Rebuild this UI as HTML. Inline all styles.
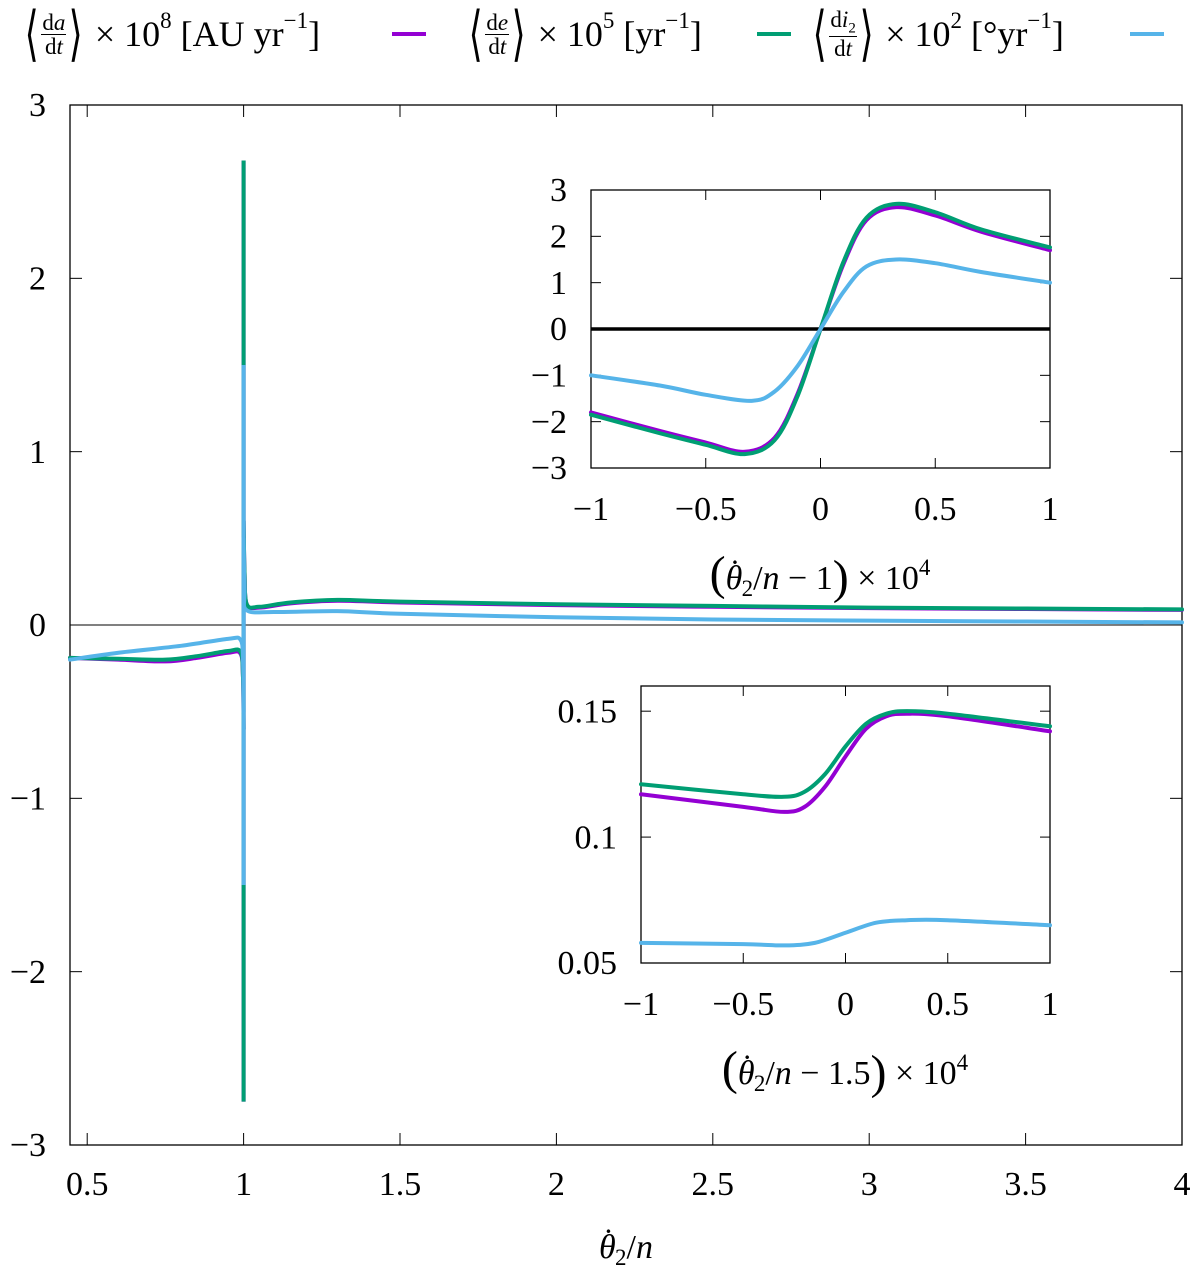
<!DOCTYPE html>
<html><head><meta charset="utf-8"><style>
body{margin:0;background:#fff;width:1200px;height:1273px;overflow:hidden;font-family:"Liberation Serif",serif}
.leg{position:absolute;top:8px;font-size:36px;white-space:nowrap;display:flex;align-items:center;height:52px}
.leg sup{font-size:23px;position:relative;top:-13px;vertical-align:baseline}
.br{font-size:60px;font-weight:100;transform:scaleX(0.6);display:inline-block;line-height:1;margin:0 -2px}
.fr{display:inline-flex;flex-direction:column;align-items:center;font-size:23px;line-height:1;margin:0 0px}
.fr span:first-child{border-bottom:1px solid #000;padding:0 1px}
i{font-style:italic}
</style></head><body>
<div class="leg" style="left:22px"><span class="br">⟨</span><span class="fr"><span>d<i>a</i></span><span>d<i>t</i></span></span><span class="br">⟩</span>&nbsp;× 10<sup>8</sup>&nbsp;[AU yr<sup>−1</sup>]</div>
<div class="leg" style="left:466px"><span class="br">⟨</span><span class="fr"><span>d<i>e</i></span><span>d<i>t</i></span></span><span class="br">⟩</span>&nbsp;× 10<sup>5</sup>&nbsp;[yr<sup>−1</sup>]</div>
<div class="leg" style="left:810px"><span class="br">⟨</span><span class="fr"><span>d<i>i</i><sub style="font-size:15px">2</sub></span><span>d<i>t</i></span></span><span class="br">⟩</span>&nbsp;× 10<sup>2</sup>&nbsp;[°yr<sup>−1</sup>]</div>
<svg id="s" width="1200" height="1273" style="position:absolute;left:0;top:0" font-family="Liberation Serif, serif"></svg>
<script>
const C=['#9400d3','#009e73','#56b4e9'];
const legX=[392,757,1130];
const mainDA=[[0.445,-0.19],[0.6,-0.2],[0.75,-0.21],[0.85,-0.19],[0.95,-0.16],[0.99,-0.165],[0.998,-0.3],[1.0,-0.6]];
const mainDE=[[0.445,-0.19],[0.6,-0.195],[0.75,-0.2],[0.85,-0.18],[0.95,-0.15],[0.99,-0.155],[0.998,-0.3],[1.0,-0.6]];
const mainDI=[[0.445,-0.2],[0.6,-0.16],[0.8,-0.12],[0.95,-0.08],[0.99,-0.085],[0.998,-0.2],[1.0,-0.5]];
const postDA=[[1.0,0.6],[1.003,0.3],[1.01,0.12],[1.05,0.1],[1.15,0.125],[1.3,0.14],[1.5,0.13],[2,0.115],[2.5,0.105],[3,0.097],[3.5,0.092],[4,0.087]];
const postDE=[[1.0,0.6],[1.003,0.3],[1.01,0.12],[1.05,0.105],[1.15,0.13],[1.3,0.145],[1.5,0.135],[2,0.12],[2.5,0.11],[3,0.1],[3.5,0.095],[4,0.09]];
const postDI=[[1.0,0.5],[1.003,0.2],[1.01,0.085],[1.1,0.075],[1.3,0.08],[1.5,0.065],[2,0.045],[2.5,0.032],[3,0.025],[3.5,0.02],[4,0.015]];
const spike=[[-2.75,2.68],[-2.75,2.68],[-1.5,1.5]];
const mainXT=[0.5,1,1.5,2,2.5,3,3.5,4],mainXL=['0.5','1','1.5','2','2.5','3','3.5','4'];
const mainYT=[-3,-2,-1,0,1,2,3],mainYL=['−3','−2','−1','0','1','2','3'];
const in1DA=[[-1,-1.8],[-0.7,-2.2],[-0.5,-2.45],[-0.33,-2.65],[-0.2,-2.35],[-0.1,-1.4],[0,0],[0.1,1.4],[0.2,2.35],[0.33,2.63],[0.5,2.45],[0.7,2.1],[1,1.7]];
const in1DE=[[-1,-1.85],[-0.7,-2.25],[-0.5,-2.5],[-0.33,-2.7],[-0.2,-2.4],[-0.1,-1.45],[0,0],[0.1,1.45],[0.2,2.4],[0.33,2.7],[0.5,2.52],[0.7,2.15],[1,1.76]];
const in1DI=[[-1,-1.0],[-0.7,-1.22],[-0.5,-1.42],[-0.3,-1.55],[-0.2,-1.35],[-0.1,-0.8],[0,0],[0.1,0.8],[0.2,1.35],[0.33,1.5],[0.5,1.42],[0.7,1.23],[1,1.0]];
const in1XT=[-1,-0.5,0,0.5,1],in1XL=['−1','−0.5','0','0.5','1'];
const in1YT=[-3,-2,-1,0,1,2,3],in1YL=['−3','−2','−1','0','1','2','3'];
const in2DA=[[-1,0.117],[-0.5,0.112],[-0.3,0.110],[-0.2,0.112],[-0.1,0.12],[0,0.132],[0.1,0.143],[0.2,0.148],[0.3,0.149],[0.5,0.148],[1,0.142]];
const in2DE=[[-1,0.121],[-0.5,0.117],[-0.3,0.116],[-0.2,0.118],[-0.1,0.125],[0,0.136],[0.1,0.145],[0.2,0.149],[0.3,0.15],[0.5,0.149],[1,0.144]];
const in2DI=[[-1,0.058],[-0.5,0.0575],[-0.3,0.057],[-0.15,0.058],[0,0.062],[0.15,0.066],[0.3,0.067],[0.5,0.067],[1,0.065]];
const in2XT=[-1,-0.5,0,0.5,1],in2XL=['−1','−0.5','0','0.5','1'];
const in2YT=[0.05,0.1,0.15],in2YL=['0.05','0.1','0.15'];
const S=document.getElementById('s'),NS='http://www.w3.org/2000/svg';
function el(t,a,p){const e=document.createElementNS(NS,t);for(const k in a)e.setAttribute(k,a[k]);(p||S).appendChild(e);return e;}
function lin(d0,d1,r0,r1){return v=>r0+(v-d0)/(d1-d0)*(r1-r0);}
function smooth(pts){let d='M'+pts[0][0]+','+pts[0][1];for(let i=0;i<pts.length-1;i++){const p0=pts[Math.max(0,i-1)],p1=pts[i],p2=pts[i+1],p3=pts[Math.min(pts.length-1,i+2)];const c1=[p1[0]+(p2[0]-p0[0])/6,p1[1]+(p2[1]-p0[1])/6],c2=[p2[0]-(p3[0]-p1[0])/6,p2[1]-(p3[1]-p1[1])/6];d+=' C'+c1+' '+c2+' '+p2;}return d;}
function series(data,X,Y,col,w,name){const p=el('path',{d:smooth(data.map(q=>[X(q[0]),Y(q[1])])),fill:'none',stroke:col,'stroke-width':w,'stroke-linejoin':'round','stroke-linecap':'round'});}
function axes(b,X,Y,xt,xl,yt,yl,fs,tl,name,xoff){
 const g=el('g',{});
 el('rect',{x:b[0],y:b[1],width:b[2]-b[0],height:b[3]-b[1],fill:'none',stroke:'#000','stroke-width':1.3},g);
 xt.forEach((v,i)=>{const x=X(v);el('line',{x1:x,x2:x,y1:b[3],y2:b[3]-tl,stroke:'#000'},g);el('line',{x1:x,x2:x,y1:b[1],y2:b[1]+tl,stroke:'#000'},g);const t=el('text',{x:x,y:b[3]+xoff,'font-size':fs,'text-anchor':'middle'},g);t.textContent=xl[i];});
 yt.forEach((v,i)=>{const y=Y(v);el('line',{x1:b[0],x2:b[0]+tl,y1:y,y2:y,stroke:'#000'},g);el('line',{x1:b[2],x2:b[2]-tl,y1:y,y2:y,stroke:'#000'},g);const t=el('text',{x:b[0]-24,y:y+fs*0.33,'font-size':fs,'text-anchor':'end'},g);t.textContent=yl[i];});
}
legX.forEach((x,i)=>{const l=el('line',{x1:x,x2:x+34,y1:34,y2:34,stroke:C[i],'stroke-width':4});});
const MX=lin(0.445,4,70,1182),MY=lin(-3,3,1145,105);
axes([70,105,1182,1145],MX,MY,mainXT,mainXL,mainYT,mainYL,34,12,'main-axes',50);
el('line',{x1:70,x2:1182,y1:MY(0),y2:MY(0),stroke:'#000','stroke-width':1});
[[mainDA,postDA],[mainDE,postDE],[mainDI,postDI]].forEach((s,i)=>{series(s[0],MX,MY,C[i],4,'main-pre-'+i);series(s[1],MX,MY,C[i],4,'main-post-'+i);const l=el('line',{x1:MX(1),x2:MX(1),y1:MY(spike[i][0]),y2:MY(spike[i][1]),stroke:C[i],'stroke-width':4});});
const TH='<tspan font-style="italic">θ</tspan><tspan dx="-13" dy="-6" font-size="34">˙</tspan><tspan dx="1" dy="13" font-size="23">2</tspan><tspan dy="-7">/</tspan><tspan font-style="italic">n</tspan>';
const xt=el('text',{x:626,y:1258,'font-size':34,'text-anchor':'middle'});xt.innerHTML=TH;
const AX=lin(-1,1,591,1050),AY=lin(-3,3,468,190);
el('rect',{x:591,y:190,width:459,height:278,fill:'#fff'});
axes([591,190,1050,468],AX,AY,in1XT,in1XL,in1YT,in1YL,34,10,'inset1-axes',52);
el('line',{x1:591,x2:1050,y1:AY(0),y2:AY(0),stroke:'#000','stroke-width':3.5});
[in1DA,in1DE,in1DI].forEach((d,i)=>series(d,AX,AY,C[i],4,'inset1-series-'+i));
const t1=el('text',{x:820,y:585,'font-size':34,'text-anchor':'middle'});t1.innerHTML='<tspan font-size="48" dy="4">(</tspan><tspan dy="-4"></tspan>'+TH+'<tspan> − 1</tspan><tspan font-size="48" dy="4">)</tspan><tspan dy="-4"> × 10</tspan><tspan font-size="23" dy="-14">4</tspan>';
const BX=lin(-1,1,641,1050),BY=lin(0.05,0.16,963,686);
el('rect',{x:641,y:686,width:409,height:277,fill:'#fff'});
axes([641,686,1050,963],BX,BY,in2XT,in2XL,in2YT,in2YL,34,10,'inset2-axes',52);
[in2DA,in2DE,in2DI].forEach((d,i)=>series(d,BX,BY,C[i],4,'inset2-series-'+i));
const t2=el('text',{x:845,y:1080,'font-size':34,'text-anchor':'middle'});t2.innerHTML='<tspan font-size="48" dy="4">(</tspan><tspan dy="-4"></tspan>'+TH+'<tspan> − 1.5</tspan><tspan font-size="48" dy="4">)</tspan><tspan dy="-4"> × 10</tspan><tspan font-size="23" dy="-14">4</tspan>';
</script>
</body></html>
